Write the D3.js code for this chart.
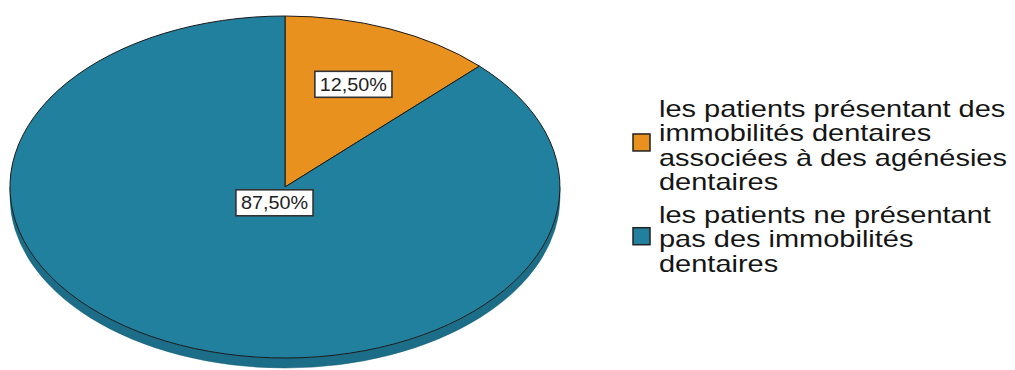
<!DOCTYPE html>
<html>
<head>
<meta charset="utf-8">
<script src="https://cdn.jsdelivr.net/npm/d3@7"></script>
<style>
  html, body { margin: 0; padding: 0; background: #fff; }
  svg { display: block; }
</style>
</head>
<body>
<svg id="chart" width="1015" height="370"></svg>
<script>
// Slices, in drawing order (clockwise from 12 o'clock)
const categories = [
  "les patients présentant des immobilités dentaires associées à des agénésies dentaires",
  "les patients ne présentant pas des immobilités dentaires"
];
const values = [12.5, 87.5];
const valueLabels = ["12,50%", "87,50%"];
const legendLines = [
  ["les patients présentant des", "immobilités dentaires", "associées à des agénésies", "dentaires"],
  ["les patients ne présentant", "pas des immobilités", "dentaires"]
];
const colors = ["#e8911f", "#21809e"];

// Layout
const cx = 285, cy = 187, rx = 275, ry = 171, depth = 10;
const labelFrac = [0.65, 0.1];

const svg = d3.select("#chart");

const slices = d3.pie().sort(null).value(d => d)(values);

// point on the top face ellipse for a d3 pie angle (0 = top, clockwise)
const pt = (a, dy = 0) => [cx + rx * Math.sin(a), cy - ry * Math.cos(a) + dy];

// Side wall: only the front half (angles between PI/2 and 3PI/2) is visible
const sideG = svg.append("g");
slices.forEach((s, i) => {
  const a0 = Math.max(s.startAngle, Math.PI / 2);
  const a1 = Math.min(s.endAngle, 3 * Math.PI / 2);
  if (a1 <= a0) return;
  const p0 = pt(a0), p1 = pt(a1), q1 = pt(a1, depth), q0 = pt(a0, depth);
  const d = `M${p0}A${rx},${ry} 0 0 1 ${p1}L${q1}A${rx},${ry} 0 0 0 ${q0}Z`;
  sideG.append("path")
    .attr("d", d)
    .attr("fill", d3.color(colors[i]).darker(0.45))
    .attr("stroke", d3.color(colors[i]).darker(0.8))
    .attr("stroke-width", 0.5);
});

// Top face: unit-radius arcs stretched into the ellipse
const arc = d3.arc().innerRadius(0).outerRadius(1);
const face = svg.append("g").attr("transform", `translate(${cx},${cy}) scale(${rx},${ry})`);
face.selectAll("path")
  .data(slices)
  .join("path")
  .attr("d", arc)
  .attr("fill", (d, i) => colors[i])
  .attr("stroke", "#1a1a1a")
  .attr("stroke-width", 1)
  .attr("vector-effect", "non-scaling-stroke")
  .attr("stroke-linejoin", "round");

// Value labels in white boxes
const lblG = svg.append("g");
slices.forEach((s, i) => {
  const mid = (s.startAngle + s.endAngle) / 2;
  const x = cx + rx * labelFrac[i] * Math.sin(mid);
  const y = cy - ry * labelFrac[i] * Math.cos(mid);
  const g = lblG.append("g").attr("transform", `translate(${x},${y})`);
  const rect = g.append("rect");
  const t = g.append("text")
    .attr("transform", "scale(1.1,1)")
    .attr("text-anchor", "middle")
    .attr("dy", "0.36em")
    .attr("font-family", "Arial, 'Liberation Sans', sans-serif")
    .attr("font-size", 18)
    .attr("fill", "#222")
    .text(valueLabels[i]);
  const w = t.node().getComputedTextLength() * 1.1 + 10;
  const h = 26;
  rect.attr("x", -w / 2).attr("y", -h / 2).attr("width", w).attr("height", h)
    .attr("fill", "#fff").attr("stroke", "#333").attr("stroke-width", 1.6);
});

// Legend
const legend = svg.append("g");
const legX = 633, textX = 659, lineH = 24.5, fs = 23, sx = 1.26;
const firstBaselines = [117, 223];
const sw = 17;
legendLines.forEach((lines, i) => {
  const g = legend.append("g");
  const b0 = firstBaselines[i];
  const blockMid = b0 - fs * 0.72 + (lines.length - 1) * lineH / 2 + fs * 0.72 / 2;
  g.append("rect")
    .attr("x", legX).attr("y", blockMid - sw / 2 - 3)
    .attr("width", sw).attr("height", sw)
    .attr("fill", colors[i]).attr("stroke", "#222").attr("stroke-width", 1.5);
  const t = g.append("text")
    .attr("transform", `translate(${textX},0) scale(${sx},1)`)
    .attr("font-family", "Arial, 'Liberation Sans', sans-serif")
    .attr("font-size", fs)
    .attr("fill", "#151515");
  lines.forEach((ln, k) => {
    t.append("tspan").attr("x", 0).attr("y", b0 + k * lineH).text(ln);
  });
});
</script>
</body>
</html>
